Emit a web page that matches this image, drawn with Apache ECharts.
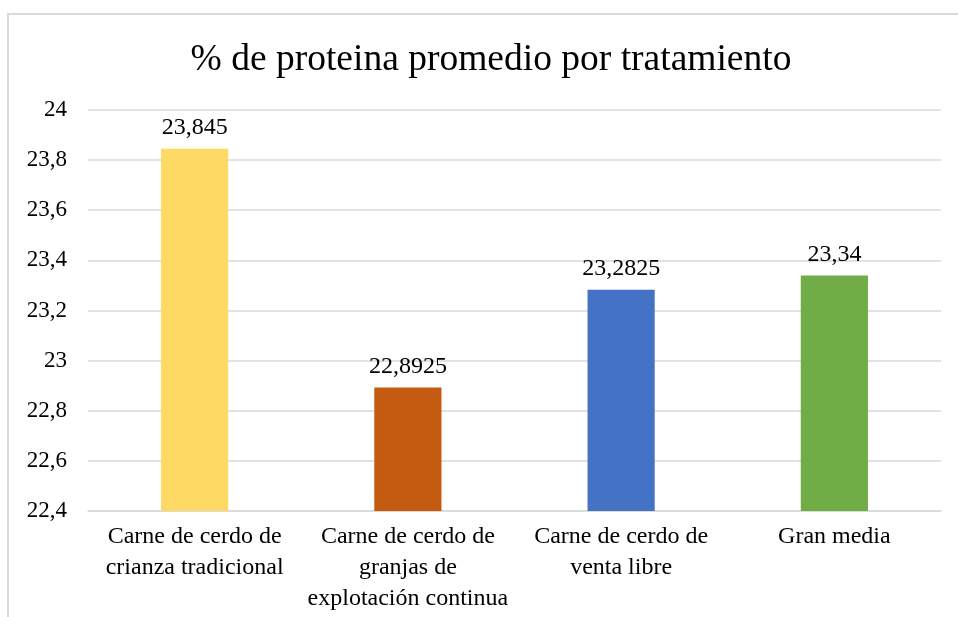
<!DOCTYPE html>
<html>
<head>
<meta charset="utf-8">
<script src="https://cdn.jsdelivr.net/npm/echarts@6/dist/echarts.min.js"></script>
<style>
  html, body { margin: 0; padding: 0; background: #fff; }
  #chart { width: 958px; height: 617px; }
</style>
</head>
<body>
<div id="chart"></div>
<script>
// datos del gráfico
var categorias = [
    'Carne de cerdo de\ncrianza tradicional',
    'Carne de cerdo de\ngranjas de\nexplotación continua',
    'Carne de cerdo de\nventa libre',
    'Gran media'
];
var valores = [23.845, 22.8925, 23.2825, 23.34];
var colores = ['#FFD966', '#C55A11', '#4472C4', '#70AD47'];

var fuente = '"Liberation Serif", "Times New Roman", serif';

var myChart = echarts.init(document.getElementById('chart'));

var option = {
    backgroundColor: '#fff',
    animation: false,
    title: {
        text: '% de proteina promedio por tratamiento',
        left: 486,
        top: 36,
        textAlign: 'center',
        textStyle: {
            fontFamily: fuente,
            fontWeight: 'normal',
            fontSize: 37.5,
            color: '#000'
        }
    },
    // borde del área del gráfico
    graphic: [{
        type: 'rect',
        shape: { x: 8, y: 14, width: 1000, height: 700 },
        style: { fill: 'none', stroke: '#d9d9d9', lineWidth: 2 },
        silent: true
    }],
    grid: {
        left: 88,
        right: 17,
        top: 110,
        bottom: 106
    },
    xAxis: {
        type: 'category',
        data: categorias,
        axisLine: { lineStyle: { color: '#d9d9d9', width: 1.5 } },
        axisTick: { show: false },
        axisLabel: {
            interval: 0,
            margin: 10,
            fontFamily: fuente,
            fontSize: 24,
            lineHeight: 31,
            color: '#000'
        }
    },
    yAxis: {
        type: 'value',
        min: 22.4,
        max: 24,
        interval: 0.2,
        axisLine: { show: false },
        axisTick: { show: false },
        splitLine: { lineStyle: { color: '#d9d9d9', width: 1.5 } },
        axisLabel: {
            margin: 21,
            fontFamily: fuente,
            fontSize: 23,
            color: '#000',
            formatter: function (v) {
                return String(Math.round(v * 10) / 10).replace('.', ',');
            }
        }
    },
    series: [{
        type: 'bar',
        barWidth: '31.5%',
        data: valores.map(function (v, i) {
            return { value: v, itemStyle: { color: colores[i] } };
        }),
        label: {
            show: true,
            position: 'top',
            distance: 9,
            fontFamily: fuente,
            fontSize: 24,
            color: '#000',
            formatter: function (p) {
                return String(p.value).replace('.', ',');
            }
        }
    }]
};

myChart.setOption(option);

window.addEventListener('resize', function () {
    myChart.resize();
});
</script>
</body>
</html>
